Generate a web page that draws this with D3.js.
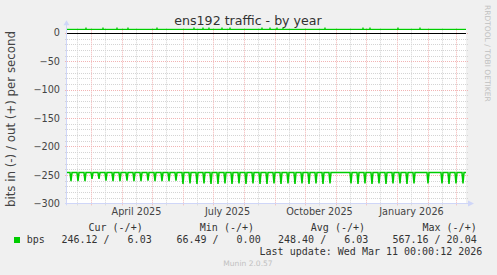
<!DOCTYPE html>
<meta charset="utf-8">
<script src="https://d3js.org/d3.v7.min.js"></script>
<style>
  body { margin: 0; background: #f0f0f0; }
  text { font-family: "DejaVu Sans", sans-serif; }
  .mono { font-family: "DejaVu Sans Mono", monospace; white-space: pre; }
</style>
<div id="chart"></div>
<script>

// ---- data ----
var startTime = new Date(2025, 1, 4, 0, 12);
var endTime = new Date(2026, 2, 11, 0, 12);

// in (drawn negative): flat level with a dip every Sunday (null = no dip that week)
var inBase = -246;
var firstDipDay = "2025-02-09";
var inWeekDip = [
  -261, -261, -261, -257, -257, -260, -261, -261, -260, -261, -261, -260, -261, -261, -261, -260,
  -266, -265, -266, -265, -266, -266, -265, -266, -265, -266, -265, -266, -266, -265, -266, -265,
  -266, -265, -266, -265, -266, -265, null, null,
  -265, -266, -265, -266, -265, -266, -265, -265, -266, -265,
  null, -265, null, -265, -266, -265, -265
];

// out (positive): flat level with a few small bumps
var outBase = 6.03;
var outBumpDays = ["2025-02-24", "2025-03-13", "2025-03-27", "2025-04-07", "2025-05-06", "2025-06-12",
  "2025-06-21", "2025-06-27", "2025-07-10", "2025-07-18", "2025-08-19", "2025-08-27", "2025-09-03",
  "2025-09-09", "2025-10-21", "2025-11-28", "2025-12-05", "2026-01-02", "2026-01-24"];
var outBumpValues = [8, 8, 8, 8, 8, 8, 8, 8, 8, 8, 8, 8, 8, 8, 8, 8, 8, 8, 8];

var yTicks = [0, -50, -100, -150, -200, -250, -300];
var xLabelDays = ["2025-04-15", "2025-07-15", "2025-10-15", "2026-01-15"];

var legendHeads = ["Cur (-/+)", "Min (-/+)", "Avg (-/+)", "Max (-/+)"];
var legendValues = ["246.12 /   6.03", "66.49 /   0.00", "248.40 /   6.03", "567.16 / 20.04"];

// ---- layout ----
var W = 497, H = 275;
var plotLeft = 67, plotRight = 466, plotTop = 28.3, plotBottom = 203.3;

var parse = d3.timeParse("%Y-%m-%d");

var svg = d3.select("#chart").append("svg")
  .attr("width", W).attr("height", H);

svg.append("rect").attr("width", W).attr("height", H).attr("fill", "#f0f0f0");
svg.append("rect")
  .attr("x", plotLeft).attr("y", plotTop)
  .attr("width", plotRight - plotLeft).attr("height", plotBottom - plotTop)
  .attr("fill", "#ffffff");

var x = d3.scaleTime().domain([startTime, endTime]).range([plotLeft - 1, plotRight]);
var y = d3.scaleLinear().domain([-300, 8]).range([plotBottom, plotTop]);

// grid
var minorY = d3.range(-290, 10, 10).filter(function(v) { return v % 50 != 0; });
var majorY = [-250, -200, -150, -100, -50, 0];
var monthStarts = d3.timeMonth.range(d3.timeMonth.ceil(startTime), endTime);
var midMonths = d3.timeMonth.range(d3.timeMonth.floor(startTime), endTime)
  .map(function(d) { return new Date(d.getFullYear(), d.getMonth(), 15); })
  .filter(function(d) { return d > startTime && d < endTime; });

var grid = svg.append("g");
grid.selectAll(".hmin").data(minorY).enter().append("line")
  .attr("x1", plotLeft - 2).attr("x2", plotRight + 2)
  .attr("y1", function(d) { return Math.round(y(d)) + 0.5; })
  .attr("y2", function(d) { return Math.round(y(d)) + 0.5; })
  .attr("stroke", "#d4d4d4").attr("stroke-dasharray", "1,1");
grid.selectAll(".vmin").data(midMonths).enter().append("line")
  .attr("y1", plotTop).attr("y2", plotBottom + 2)
  .attr("x1", function(d) { return Math.round(x(d)) + 0.5; })
  .attr("x2", function(d) { return Math.round(x(d)) + 0.5; })
  .attr("stroke", "#d4d4d4").attr("stroke-dasharray", "1,1");
grid.selectAll(".hmaj").data(majorY).enter().append("line")
  .attr("x1", plotLeft - 2).attr("x2", plotRight + 2)
  .attr("y1", function(d) { return Math.round(y(d)) + 0.5; })
  .attr("y2", function(d) { return Math.round(y(d)) + 0.5; })
  .attr("stroke", "#f2b4b4").attr("stroke-dasharray", "1,1");
grid.selectAll(".vmaj").data(monthStarts).enter().append("line")
  .attr("y1", plotTop).attr("y2", plotBottom + 2)
  .attr("x1", function(d) { return Math.round(x(d)) + 0.5; })
  .attr("x2", function(d) { return Math.round(x(d)) + 0.5; })
  .attr("stroke", "#f2b4b4").attr("stroke-dasharray", "1,1");

// series: in
var inPoints = [[startTime, inBase]];
var dip0 = parse(firstDipDay);
inWeekDip.forEach(function(v, k) {
  if (v == null) return;
  var day = d3.timeDay.offset(dip0, 7 * k);
  inPoints.push([d3.timeDay.offset(day, -1), inBase]);
  inPoints.push([day, v]);
  inPoints.push([d3.timeDay.offset(day, 1), inBase]);
});
inPoints.push([endTime, inBase]);

// series: out
var outPoints = [[startTime, outBase]];
outBumpDays.forEach(function(s, i) {
  var day = parse(s);
  outPoints.push([d3.timeHour.offset(day, -12), outBase]);
  outPoints.push([day, outBumpValues[i]]);
  outPoints.push([d3.timeHour.offset(day, 12), outBase]);
});
outPoints.push([endTime, outBase]);

var line = d3.line()
  .x(function(d) { return x(d[0]); })
  .y(function(d) { return y(d[1]); });

// zero rule
svg.append("line")
  .attr("x1", plotLeft).attr("x2", plotRight)
  .attr("y1", Math.round(y(0)) + 0.5).attr("y2", Math.round(y(0)) + 0.5)
  .attr("stroke", "#000");

svg.append("path").datum(inPoints)
  .attr("d", line).attr("fill", "none")
  .attr("stroke", "#00cc00").attr("stroke-width", 1.5);
svg.append("path").datum(outPoints)
  .attr("d", line).attr("fill", "none")
  .attr("stroke", "#00cc00").attr("stroke-width", 1.3);

// axes lines + arrows
var axisColor = "#cfd6f8";
svg.append("line").attr("x1", plotLeft - 0.5).attr("x2", plotLeft - 0.5)
  .attr("y1", plotBottom + 2).attr("y2", plotTop - 4).attr("stroke", axisColor);
svg.append("path").attr("d", "M" + (plotLeft - 3.5) + "," + (plotTop - 3) + "L" + (plotLeft - 0.5) + "," + (plotTop - 8) + "L" + (plotLeft + 2.5) + "," + (plotTop - 3) + "Z")
  .attr("fill", axisColor);
svg.append("line").attr("x1", plotLeft - 2).attr("x2", plotRight + 4)
  .attr("y1", Math.round(plotBottom) + 0.5).attr("y2", Math.round(plotBottom) + 0.5).attr("stroke", axisColor);
svg.append("path").attr("d", "M" + (plotRight + 2) + "," + (Math.round(plotBottom) - 2.5) + "L" + (plotRight + 8) + "," + (Math.round(plotBottom) + 0.5) + "L" + (plotRight + 2) + "," + (Math.round(plotBottom) + 3.5) + "Z")
  .attr("fill", axisColor);

// y axis labels
var yAxis = svg.append("g")
  .attr("transform", "translate(" + plotLeft + ",0)")
  .call(d3.axisLeft(y).tickValues(yTicks).tickSize(0).tickPadding(7));
yAxis.select(".domain").remove();
yAxis.selectAll("text").attr("font-family", "DejaVu Sans").attr("font-size", "9.7px").attr("fill", "#444");

// x axis labels
var xAxis = svg.append("g")
  .attr("transform", "translate(0," + plotBottom + ")")
  .call(d3.axisBottom(x).tickValues(xLabelDays.map(parse)).tickSize(0).tickPadding(4.5)
    .tickFormat(d3.timeFormat("%B %Y")));
xAxis.select(".domain").remove();
xAxis.selectAll("text").attr("font-family", "DejaVu Sans").attr("font-size", "9.7px").attr("fill", "#444");

// title
svg.append("text")
  .attr("x", 248).attr("y", 24.5)
  .attr("text-anchor", "middle")
  .attr("font-size", "12.6px").attr("fill", "#333")
  .text("ens192 traffic - by year");

// y label
svg.append("text")
  .attr("transform", "translate(14.5,119) rotate(-90)")
  .attr("text-anchor", "middle")
  .attr("font-size", "11.8px").attr("fill", "#444")
  .text("bits in (-) / out (+) per second");

// watermark
svg.append("text")
  .attr("transform", "translate(485,5) rotate(90)")
  .attr("font-size", "7.5px").attr("fill", "#c0c0c0")
  .text("RRDTOOL / TOBI OETIKER");

// legend
var headEnds = [142.7, 254, 365, 476.7];
var valueEnds = [151.7, 260.7, 368.3, 476.7];
svg.selectAll(".lh").data(legendHeads).enter().append("text")
  .attr("class", "mono")
  .attr("x", function(d, i) { return headEnds[i]; }).attr("y", 230.6)
  .attr("text-anchor", "end").attr("font-size", "10px").attr("fill", "#333")
  .text(function(d) { return d; });

svg.append("rect").attr("x", 14).attr("y", 237).attr("width", 6).attr("height", 6).attr("fill", "#00cc00");
svg.append("text").attr("class", "mono")
  .attr("x", 26.7).attr("y", 243.3).attr("font-size", "10px").attr("fill", "#333")
  .text("bps");
svg.selectAll(".lv").data(legendValues).enter().append("text")
  .attr("class", "mono")
  .attr("x", function(d, i) { return valueEnds[i]; }).attr("y", 243.3)
  .attr("text-anchor", "end").attr("font-size", "10px").attr("fill", "#333")
  .text(function(d) { return d; });

svg.append("text").attr("class", "mono")
  .attr("x", 482.3).attr("y", 255)
  .attr("text-anchor", "end").attr("font-size", "10px").attr("fill", "#333")
  .text("Last update: Wed Mar 11 00:00:12 2026");

svg.append("text")
  .attr("x", 248).attr("y", 266)
  .attr("text-anchor", "middle").attr("font-size", "7.55px").attr("fill", "#c0c0c0")
  .text("Munin 2.0.57");

</script>
